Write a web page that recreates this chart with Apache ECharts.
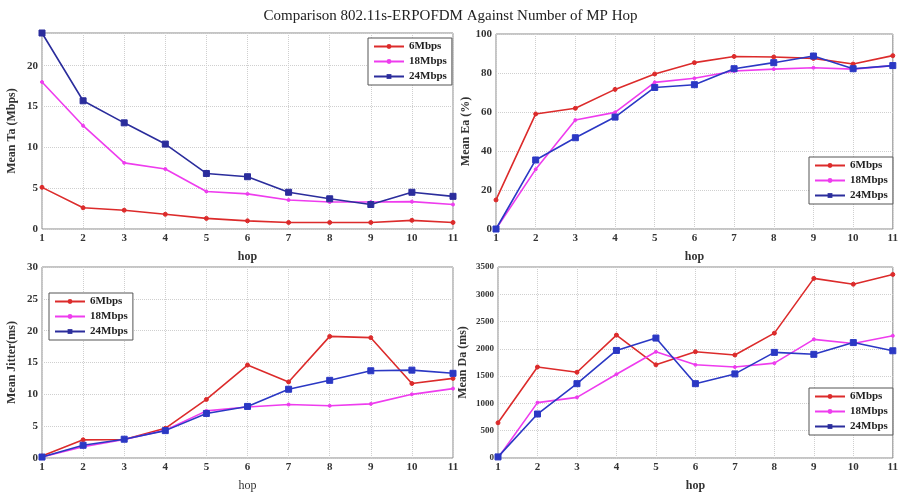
<!DOCTYPE html>
<html>
<head>
<meta charset="utf-8">
<script src="https://cdn.jsdelivr.net/npm/echarts@6/dist/echarts.min.js"></script>
<style>
  html, body { margin: 0; padding: 0; background: #fff; }
  #main { width: 901px; height: 493px; }
</style>
</head>
<body>
<div id="main"></div>
<script>
var hops = [1, 2, 3, 4, 5, 6, 7, 8, 9, 10, 11];
var rates = ['6Mbps', '18Mbps', '24Mbps'];

// Mean Ta (Mbps)
var ta6 = [5.1, 2.6, 2.3, 1.8, 1.3, 1.0, 0.8, 0.8, 0.8, 1.06, 0.8];
var ta18 = [18, 12.65, 8.1, 7.35, 4.6, 4.3, 3.55, 3.3, 3.3, 3.35, 3.0];
var ta24 = [24, 15.7, 13, 10.4, 6.8, 6.4, 4.5, 3.7, 3.0, 4.5, 4.0];

// Mean Ea (%)
var ea6 = [14.9, 59, 61.9, 71.6, 79.5, 85.3, 88.5, 88.2, 87.5, 84.6, 88.9];
var ea18 = [0, 30.6, 55.9, 59.8, 75.2, 77.3, 81, 82, 82.7, 82, 83.8];
var ea24 = [0, 35.4, 46.8, 57.4, 72.6, 74, 82.2, 85.3, 88.7, 82.2, 83.8];

// Mean Jitter (ms)
var jit6 = [0.3, 2.85, 2.9, 4.66, 9.2, 14.6, 11.95, 19.1, 18.9, 11.7, 12.5];
var jit18 = [0.15, 1.76, 2.9, 4.35, 7.4, 8.0, 8.4, 8.2, 8.5, 10.0, 10.9];
var jit24 = [0.15, 2.0, 2.95, 4.3, 7.0, 8.1, 10.8, 12.2, 13.7, 13.8, 13.3];

// Mean Da (ms)
var da6 = [645, 1667, 1571, 2252, 1708, 1947, 1888, 2288, 3291, 3184, 3363];
var da18 = [0, 1015, 1111, 1535, 1947, 1708, 1667, 1738, 2174, 2097, 2240];
var da24 = [20, 806, 1362, 1971, 2198, 1362, 1541, 1935, 1900, 2115, 1965];

var serif = 'Liberation Serif';
var colors = ['#dc2b2b', '#ee3cee', '#2b38c4'];

function pairs(vals) {
    return hops.map(function (h, i) { return [h, vals[i]]; });
}

var myChart = echarts.init(document.getElementById('main'));

var grids = [
    { left: 42, right: 448, top: 33, bottom: 264 },
    { left: 496, right: 5, top: 34, bottom: 264 },
    { left: 42, right: 448, top: 267, bottom: 32 },
    { left: 498, right: 5, top: 267, bottom: 31 }
];
grids.forEach(function (g) {
    g.show = true;
    g.borderColor = '#8a8a8a';
    g.borderWidth = 1;
    g.backgroundColor = '#fff';
});

function xAxis(idx, bold) {
    return {
        type: 'value', gridIndex: idx, min: 1, max: 11, interval: 1,
        name: 'hop', nameLocation: 'middle', nameGap: 22,
        nameTextStyle: { fontFamily: serif, fontSize: 12, fontWeight: bold ? 'bold' : 'normal', color: '#333' },
        axisLine: { show: false },
        axisTick: { show: false },
        axisLabel: { fontFamily: serif, fontSize: 11, fontWeight: 'bold', color: '#333', margin: 4 },
        splitLine: { show: true, lineStyle: { color: '#cfcfcf', type: 'dotted' } }
    };
}

function yAxis(idx, name, max, interval, gap, fs) {
    return {
        type: 'value', gridIndex: idx, min: 0, max: max, interval: interval,
        name: name, nameLocation: 'middle', nameGap: gap,
        nameTextStyle: { fontFamily: serif, fontSize: 12, fontWeight: 'bold', color: '#333' },
        axisLine: { show: false },
        axisTick: { show: false },
        axisLabel: {
            fontFamily: serif, fontSize: fs, fontWeight: 'bold', color: '#333', margin: 4,
            showMaxLabel: max % interval === 0,
            formatter: function (v) { return String(v); }
        },
        splitLine: { show: true, lineStyle: { color: '#cfcfcf', type: 'dotted' } }
    };
}

function mkSeries(idx, vals, k, blueOverride) {
    var c = colors[k];
    if (k === 2 && blueOverride) c = blueOverride;
    var sym = ['circle', 'circle', 'rect'][k];
    var size = [4, 3, 6][k];
    return {
        name: rates[k], type: 'line', xAxisIndex: idx, yAxisIndex: idx,
        data: pairs(vals), symbol: sym, symbolSize: size, showSymbol: true,
        lineStyle: { color: c, width: 1.6 },
        itemStyle: { color: c, borderColor: c },
        animation: false
    };
}

function legend(left, top) {
    return {
        data: rates, orient: 'vertical', left: left, top: top,
        borderColor: '#555', borderWidth: 1, backgroundColor: '#fff',
        padding: [3, 5, 3, 5], itemGap: 4, itemWidth: 30, itemHeight: 6,
        textStyle: { fontFamily: serif, fontSize: 11, fontWeight: 'bold', color: '#222' }
    };
}

var option = {
    backgroundColor: '#fff',
    title: {
        text: 'Comparison 802.11s-ERPOFDM Against Number of MP Hop',
        left: 'center', top: 4,
        textStyle: { fontFamily: serif, fontSize: 15, fontWeight: 'normal', color: '#222' }
    },
    legend: [legend(368, 38), legend(809, 157), legend(49, 293), legend(809, 388)],
    grid: grids,
    xAxis: [xAxis(0, true), xAxis(1, true), xAxis(2, false), xAxis(3, true)],
    yAxis: [
        yAxis(0, 'Mean Ta (Mbps)', 24, 5, 24, 11),
        yAxis(1, 'Mean Ea (%)', 100, 20, 24, 11),
        yAxis(2, 'Mean Jitter(ms)', 30, 5, 24, 11),
        yAxis(3, 'Mean Da (ms)', 3500, 500, 29, 9)
    ],
    series: [
        mkSeries(0, ta6, 0), mkSeries(0, ta18, 1), mkSeries(0, ta24, 2, '#2b2d9c'),
        mkSeries(1, ea6, 0), mkSeries(1, ea18, 1), mkSeries(1, ea24, 2),
        mkSeries(2, jit6, 0), mkSeries(2, jit18, 1), mkSeries(2, jit24, 2),
        mkSeries(3, da6, 0), mkSeries(3, da18, 1), mkSeries(3, da24, 2)
    ]
};

myChart.setOption(option);

window.addEventListener('resize', function () {
    myChart.resize();
});
</script>
</body>
</html>
